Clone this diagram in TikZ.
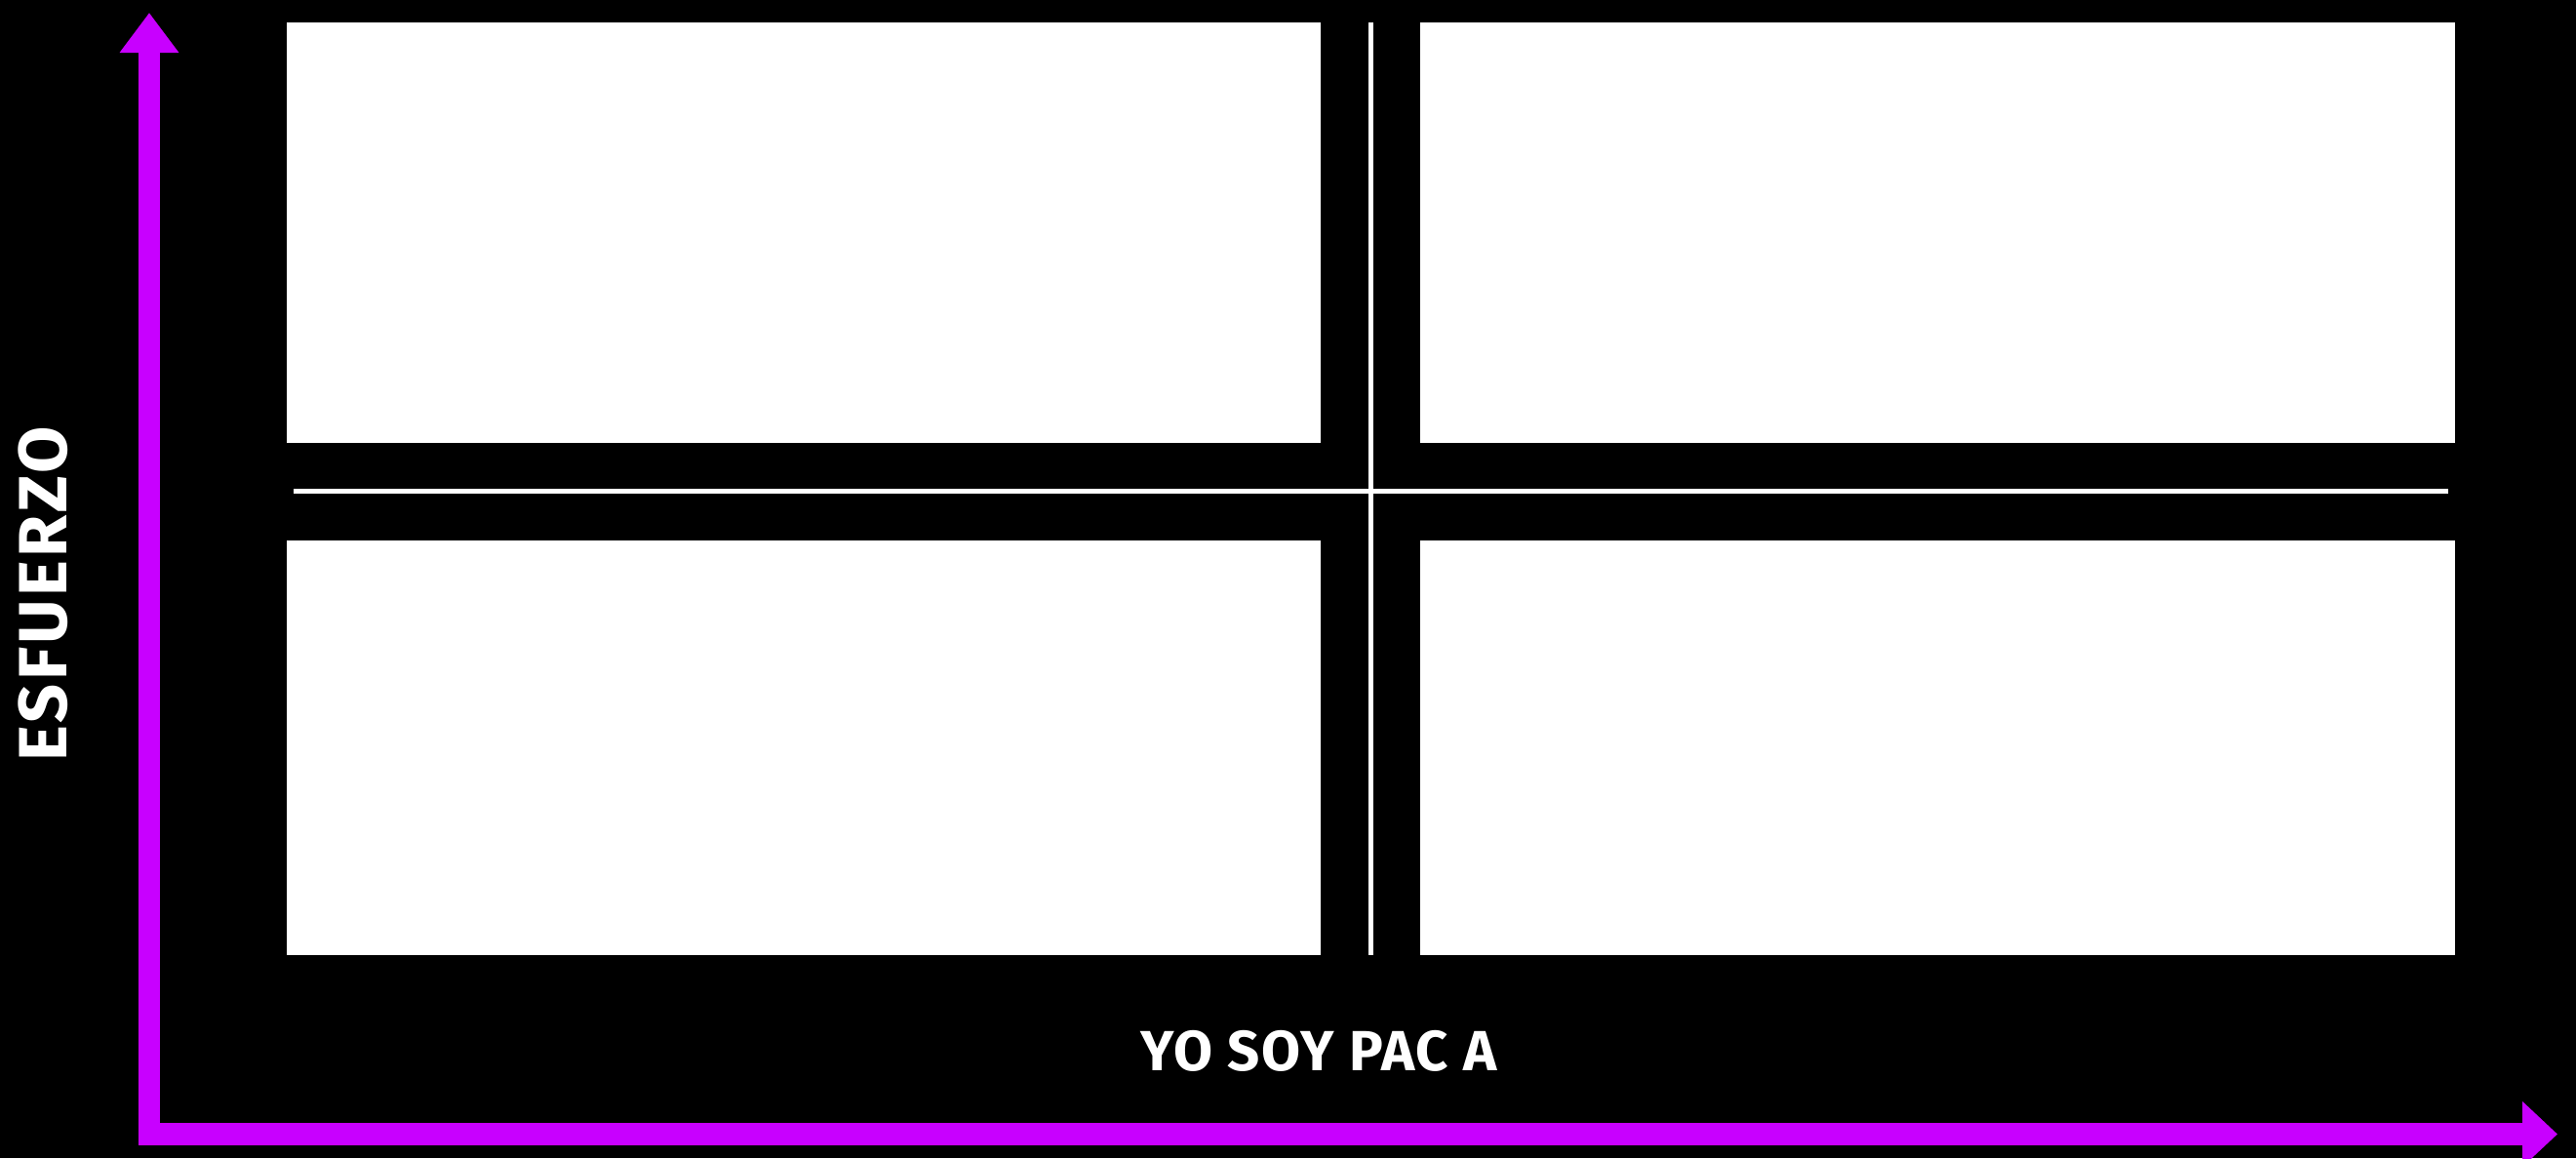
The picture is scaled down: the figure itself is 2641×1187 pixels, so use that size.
\documentclass[tikz,border=0pt]{standalone}
\usepackage{fontspec}
\setmainfont{Fira Sans}
\usetikzlibrary{arrows.meta}
\definecolor{axispurple}{RGB}{200,0,255}
\begin{document}
\begin{tikzpicture}[x=1pt,y=-1pt,
  quad/.style={fill=white,draw=none,inner sep=0pt,outer sep=0pt},
  divider/.style={draw=white,line width=5pt},
  axisline/.style={draw=axispurple,line width=22.5pt},
  lbl/.style={text=white,inner sep=0pt,font=\bfseries}
]
\fill[black] (0,0) rectangle (2641,1187);
\useasboundingbox (0,0) rectangle (2641,1187);
% quadrant boxes
\node[quad,minimum width=1060pt,minimum height=431pt] (tl) at (824,238.5) {};
\node[quad,minimum width=1061pt,minimum height=431pt] (tr) at (1986.5,238.5) {};
\node[quad,minimum width=1060pt,minimum height=425pt] (bl) at (824,766.5) {};
\node[quad,minimum width=1061pt,minimum height=425pt] (br) at (1986.5,766.5) {};
% dividers
\coordinate (vtop) at (1405.5,23);
\coordinate (vbot) at (1405.5,979);
\coordinate (hleft) at (301,503.5);
\coordinate (hright) at (2510,503.5);
\draw[divider] (vtop) -- (vbot);
\draw[divider] (hleft) -- (hright);
% axes
\coordinate (origin) at (153,1163);
\coordinate (ytip) at (153,13);
\coordinate (xstart) at (142,1162.5);
\coordinate (xtip) at (2622,1162.5);
\draw[axisline,-{Triangle[width=58pt,length=41pt]}] (origin) -- (ytip);
\draw[axisline,-{Triangle[width=65pt,length=36pt]}] (xstart) -- (xtip);
% labels
\node[lbl,anchor=base] (xlabel) at (1352,1097) {\fontsize{58}{60}\selectfont\addfontfeature{LetterSpace=2.9}YO SOY PAC A};
\node[lbl,anchor=base,rotate=90] (ylabel) at (68,609) {\fontsize{70}{72}\selectfont\addfontfeature{LetterSpace=4.8}ESFUERZO};
\end{tikzpicture}
\end{document}
